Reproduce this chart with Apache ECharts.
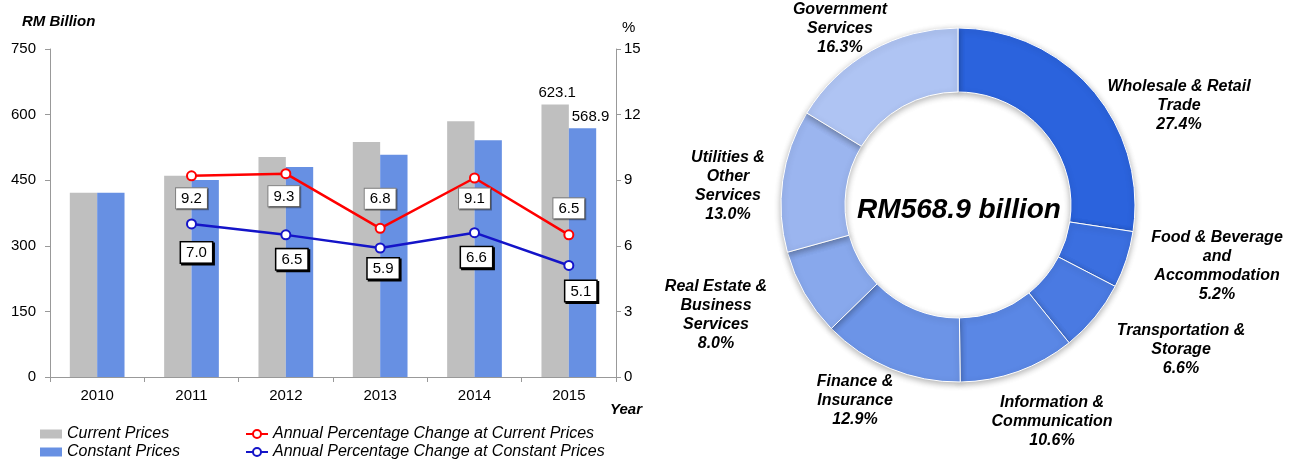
<!DOCTYPE html>
<html><head><meta charset="utf-8">
<script src="https://cdn.jsdelivr.net/npm/echarts@6/dist/echarts.min.js"></script>
<style>html,body{margin:0;padding:0;background:#fff}#c{width:1294px;height:463px}</style>
</head><body><div id="c"></div>
<script>
// ---- data ----
const years = ['2010', '2011', '2012', '2013', '2014', '2015'];
const currentPrices = [421.4, 460.2, 503.0, 537.4, 585.0, 623.1];
const constantPrices = [421.4, 450.6, 479.9, 508.1, 541.4, 568.9];
const changeCurrent = [null, 9.2, 9.3, 6.8, 9.1, 6.5];
const changeConstant = [null, 7.0, 6.5, 5.9, 6.6, 5.1];
const sectorNames = [
  'Wholesale & Retail\nTrade',
  'Food & Beverage\nand\nAccommodation',
  'Transportation &\nStorage',
  'Information &\nCommunication',
  'Finance &\nInsurance',
  'Real Estate &\nBusiness\nServices',
  'Utilities &\nOther\nServices',
  'Government\nServices'
];
const sectorShares = [27.4, 5.2, 6.6, 10.6, 12.9, 8.0, 13.0, 16.3];
const totalText = 'RM568.9 billion';

// ---- styles / layout ----
const FONT = '"Liberation Sans", Arial, sans-serif';
const sectorColors = ['#2B63DD', '#3B6FE0', '#4A7AE2', '#5A87E5', '#6C94E7', '#88A8EC', '#9BB5EF', '#AFC4F3'];
const pieCenter = [958, 205];
const pieLabelOffsets = [[221, -99], [259, 61], [223, 145], [94, 217], [-103, 196], [-242, 110], [-230, -19], [-118, -176]];
const redLabelPlace = [null, ['bottom', 7, 0], ['bottom', 7, -2], ['top', 14, 0], ['bottom', 5, 0], ['top', 11, 0]];
const blueLabelPlace = [null, ['bottom', 13, 5], ['bottom', 9, 6], ['bottom', 5, 3], ['bottom', 9, 2], ['bottom', 10, 12]];

const redBox = {backgroundColor: '#fff', borderColor: '#808080', borderWidth: 1, padding: [3, 5, 2, 5],
  color: '#000', fontSize: 15, fontFamily: FONT, shadowColor: 'rgba(0,0,0,0.35)', shadowOffsetX: 1, shadowOffsetY: 1};
const blueBox = {backgroundColor: '#fff', borderColor: '#000', borderWidth: 1.5, padding: [3, 5, 2, 5],
  color: '#000', fontSize: 15, fontFamily: FONT, shadowColor: '#000', shadowOffsetX: 1.5, shadowOffsetY: 1.5};

function lineData(vals, place, box) {
  return vals.map((v, i) => {
    if (v == null) return null;
    const p = place[i];
    return {value: v, label: Object.assign({show: true, position: p[0], distance: p[1], offset: [p[2], 0],
      formatter: (d) => d.value.toFixed(1)}, box)};
  });
}
function barData(vals, offX) {
  return vals.map((v, i) => i === vals.length - 1 ? {value: v, label: {show: true, position: 'top', distance: 4,
    offset: [offX, 0], fontSize: 15, fontFamily: FONT, color: '#000', formatter: (d) => d.value.toFixed(1)}} : v);
}

const chart = echarts.init(document.getElementById('c'), null, {renderer: 'canvas'});
const axisLineStyle = {color: '#999', width: 1};
const legendText = {fontFamily: FONT, fontSize: 16, fontStyle: 'italic', color: '#000'};
chart.setOption({
  backgroundColor: '#fff',
  animation: false,
  textStyle: {fontFamily: FONT},
  title: [{
    text: totalText, left: pieCenter[0] - 4, top: pieCenter[1], textAlign: 'center', textVerticalAlign: 'middle',
    textStyle: {fontFamily: FONT, fontSize: 28, fontWeight: 'bold', fontStyle: 'italic', color: '#000'}
  }],
  graphic: [
    {type: 'text', left: 22, top: 14, style: {text: 'RM Billion', font: 'italic bold 15px ' + FONT, fill: '#000'}},
    {type: 'text', left: 622, top: 20, style: {text: '%', font: '15px ' + FONT, fill: '#000'}},
    {type: 'text', left: 610, top: 402, style: {text: 'Year', font: 'italic bold 15px ' + FONT, fill: '#000'}}
  ],
  legend: [{
    data: ['Current Prices', 'Constant Prices'], orient: 'vertical', left: 40, bottom: 3, itemWidth: 22, itemHeight: 9,
    itemGap: 2, icon: 'rect', selectedMode: false, padding: 0, textStyle: legendText
  }, {
    data: ['Annual Percentage Change at Current Prices', 'Annual Percentage Change at Constant Prices'], orient: 'vertical',
    left: 245, bottom: 3, itemWidth: 22, itemHeight: 10, itemGap: 2, selectedMode: false, padding: 0, textStyle: legendText
  }],
  grid: {left: 50, right: 678, top: 49, bottom: 86},
  xAxis: {
    type: 'category', data: years,
    axisLine: {lineStyle: axisLineStyle}, axisTick: {show: true, length: 5, lineStyle: axisLineStyle},
    axisLabel: {color: '#000', fontSize: 15, fontFamily: FONT, margin: 11}
  },
  yAxis: [{
    type: 'value', min: 0, max: 750, interval: 150, position: 'left',
    axisLine: {show: true, lineStyle: axisLineStyle}, axisTick: {show: true, length: 5, lineStyle: axisLineStyle},
    splitLine: {show: false}, axisLabel: {color: '#000', fontSize: 15, fontFamily: FONT, margin: 14}
  }, {
    type: 'value', min: 0, max: 15, interval: 3, position: 'right',
    axisLine: {show: true, lineStyle: axisLineStyle}, axisTick: {show: true, length: 5, lineStyle: axisLineStyle},
    splitLine: {show: false}, axisLabel: {color: '#000', fontSize: 15, fontFamily: FONT, margin: 8}
  }],
  series: [{
    name: 'Current Prices', type: 'bar', data: barData(currentPrices, 2), barGap: '0%', barCategoryGap: '42%',
    itemStyle: {color: '#BFBFBF'}
  }, {
    name: 'Constant Prices', type: 'bar', data: barData(constantPrices, 8), barGap: '0%', barCategoryGap: '42%',
    itemStyle: {color: '#6790E3'}
  }, {
    name: 'Annual Percentage Change at Current Prices', type: 'line', yAxisIndex: 1,
    data: lineData(changeCurrent, redLabelPlace, redBox), symbol: 'emptyCircle', symbolSize: 9, z: 5,
    lineStyle: {color: '#FF0000', width: 2.5}, itemStyle: {color: '#FF0000', borderWidth: 2}
  }, {
    name: 'Annual Percentage Change at Constant Prices', type: 'line', yAxisIndex: 1,
    data: lineData(changeConstant, blueLabelPlace, blueBox), symbol: 'emptyCircle', symbolSize: 9, z: 5,
    lineStyle: {color: '#1414C8', width: 2.5}, itemStyle: {color: '#1414C8', borderWidth: 2}
  }, {
    type: 'pie', center: pieCenter, radius: [113, 177], startAngle: 90, clockwise: true,
    avoidLabelOverlap: false, silent: true,
    data: sectorNames.map((n, i) => ({name: n, value: sectorShares[i], itemStyle: {color: sectorColors[i]}})),
    itemStyle: {borderColor: '#fff', borderWidth: 1, shadowBlur: 6, shadowColor: 'rgba(0,0,0,0.3)', shadowOffsetY: 2},
    label: {show: true, position: 'outside', fontFamily: FONT, fontSize: 16, fontWeight: 'bold', fontStyle: 'italic',
      color: '#000', lineHeight: 19, align: 'center',
      formatter: (p) => p.name + '\n' + p.value.toFixed(1) + '%'},
    labelLine: {show: false},
    labelLayout: function (p) {
      const o = pieLabelOffsets[p.dataIndex];
      return {x: pieCenter[0] + o[0], y: pieCenter[1] + o[1], align: 'center', verticalAlign: 'middle'};
    }
  }]
});
</script>
</body></html>
